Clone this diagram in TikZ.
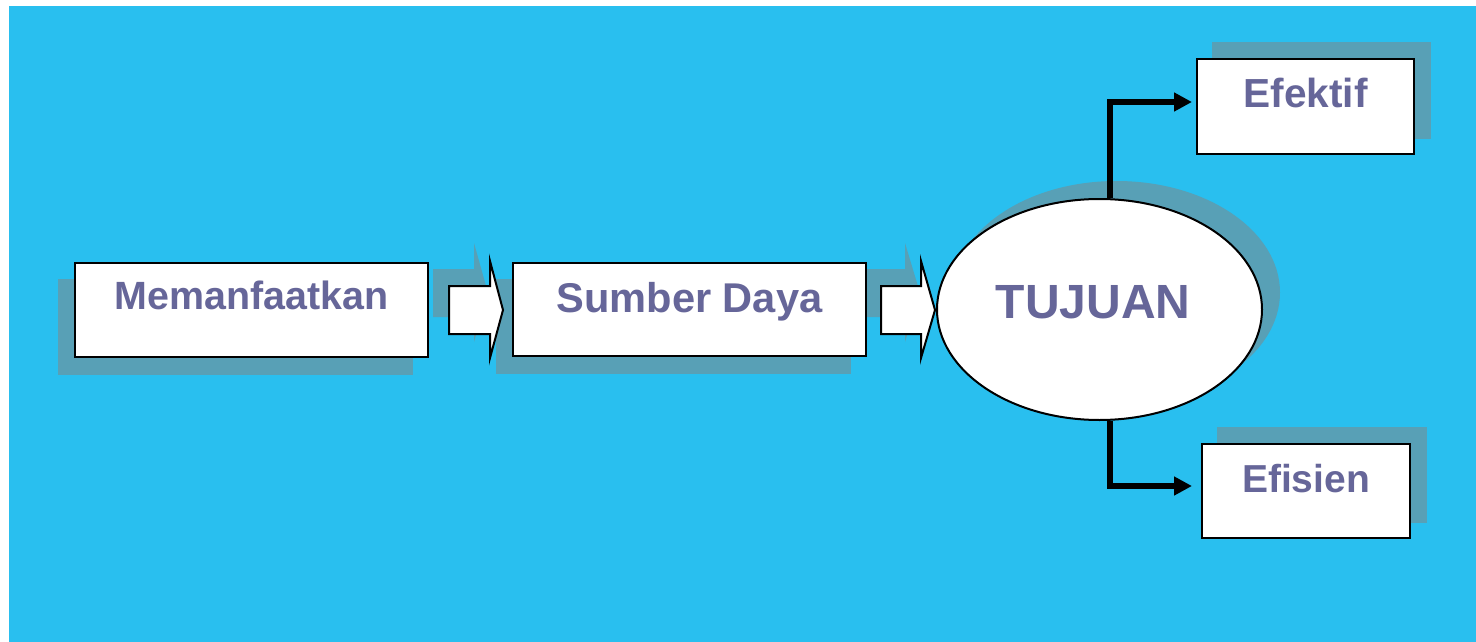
\documentclass[tikz,border=0pt]{standalone}
\usepackage{fontspec}
\setmainfont{Liberation Sans}
\usetikzlibrary{arrows.meta,shapes.geometric}
\definecolor{bg}{RGB}{41,191,239}
\definecolor{shd}{RGB}{88,160,182}
\definecolor{txt}{RGB}{102,102,153}
\begin{document}
\begin{tikzpicture}[x=1pt,y=-1pt,
  box/.style={draw=black,line width=2pt,fill=white,rectangle,inner sep=0pt,text=txt},
  oval/.style={draw=black,line width=2pt,fill=white,ellipse,inner sep=0pt,text=txt},
  shadowfill/.style={fill=shd},
  blockarrow/.style={draw=black,line width=2pt,fill=white,line join=miter},
  conn/.style={line width=6pt,-{Triangle[length=18pt,width=18pt]}}]
\useasboundingbox (0,0) rectangle (1476,642);
\fill[white] (0,0) rectangle (1476,642);
\fill[bg] (9,6) rectangle (1476,642);
% shadows
\fill[shadowfill] (58,279) rectangle (413,375);
\fill[shadowfill] (496,279) rectangle (851,374);
\fill[shadowfill] (433,269) -- (474,269) -- (474,243) -- (488,293) -- (474,342) -- (474,317) -- (433,317) -- cycle;
\fill[shadowfill] (865,269) -- (905,269) -- (905,243) -- (920,293) -- (905,342) -- (905,317) -- (865,317) -- cycle;
\fill[shadowfill] (1116.5,292.5) ellipse [x radius=163.5pt, y radius=111.5pt];
\fill[shadowfill] (1212,42) rectangle (1431,139);
\fill[shadowfill] (1217,427) rectangle (1427,523);
% block arrows
\draw[blockarrow] (449,286) -- (490,286) -- (490,261) -- (503,310) -- (490,358) -- (490,334) -- (449,334) -- cycle;
\draw[blockarrow] (881,286) -- (921,286) -- (921,261) -- (935,310) -- (921,358) -- (921,334) -- (881,334) -- cycle;
% nodes
\node[box, minimum width=353pt, minimum height=94pt, text height=0pt, text depth=2pt,
  font=\bfseries\fontsize{39.4}{40}\selectfont] (mem) at (251.5,310) {Memanfaatkan};
\node[box, minimum width=353pt, minimum height=93pt, text height=5pt, text depth=0pt,
  font=\bfseries\fontsize{41.6}{42}\selectfont] (sd) at (689.5,309.5) {Sumber Daya};
\node[oval, minimum width=325pt, minimum height=221pt, text height=17pt, text depth=0pt,
  font=\bfseries\fontsize{48}{49}\selectfont] (tuj) at (1099.5,309.5) {TUJUAN\kern13pt};
\node[box, minimum width=217pt, minimum height=95pt, text height=1pt, text depth=0pt,
  font=\bfseries\fontsize{40.6}{41}\selectfont] (ef) at (1305.5,106.5) {Efektif};
\node[box, minimum width=208pt, minimum height=94pt, text height=2pt, text depth=0pt,
  font=\bfseries\fontsize{39}{39}\selectfont] (es) at (1306,491) {Efisien};
% connectors
\coordinate (efin) at (1192,102);
\coordinate (esin) at (1192,486);
\draw[conn] ([xshift=10.5pt]tuj.north) |- (efin);
\draw[conn] ([xshift=10.5pt]tuj.south) |- (esin);
\end{tikzpicture}
\end{document}
